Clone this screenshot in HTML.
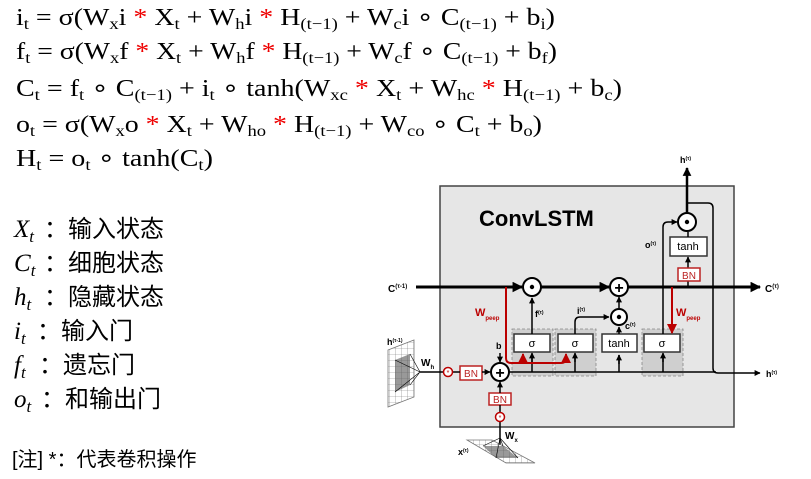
<!DOCTYPE html>
<html><head><meta charset="utf-8"><style>
html,body{margin:0;padding:0;background:#fff;}
svg{display:block;}
.eq{font-family:"Liberation Serif",serif;font-size:24px;fill:#000;}
.sub{font-size:16px;}
.r{fill:#e00;}
.cj{font-family:"Liberation Sans","Noto Sans CJK SC",sans-serif;font-size:24px;}
.it{font-family:"Liberation Serif",serif;font-style:italic;font-size:25px;}
.d{font-family:"Liberation Sans",sans-serif;font-weight:bold;}
</style></head><body>
<svg width="811" height="479" viewBox="0 0 811 479" xmlns="http://www.w3.org/2000/svg">
<defs>
<marker id="a" viewBox="0 0 10 10" refX="9" refY="5" markerWidth="4" markerHeight="3.5" orient="auto"><path d="M0,0L10,5L0,10z" fill="#000"/></marker>
<marker id="a2" viewBox="0 0 10 10" refX="9" refY="5" markerWidth="5" markerHeight="4" orient="auto"><path d="M0,0L10,5L0,10z" fill="#000"/></marker>
<marker id="ar" viewBox="0 0 10 10" refX="9" refY="5" markerWidth="5" markerHeight="5" orient="auto"><path d="M0,0L10,5L0,10z" fill="#b00"/></marker>
<marker id="ab" viewBox="0 0 10 10" refX="9" refY="5" markerWidth="4" markerHeight="4" orient="auto"><path d="M0,0L10,5L0,10z" fill="#000"/></marker>
<pattern id="g" width="6" height="6" patternUnits="userSpaceOnUse"><path d="M0,0H6V6" fill="none" stroke="#777" stroke-width="0.6"/></pattern>
</defs>
<!-- equations -->
<text class="eq" x="16" y="25" textLength="539" lengthAdjust="spacingAndGlyphs">i<tspan class="sub" dy="4">t</tspan><tspan dy="-4"> = σ(W</tspan><tspan class="sub" dy="4">x</tspan><tspan dy="-4">i </tspan><tspan class="r">*</tspan> X<tspan class="sub" dy="4">t</tspan><tspan dy="-4"> + W</tspan><tspan class="sub" dy="4">h</tspan><tspan dy="-4">i </tspan><tspan class="r">*</tspan> H<tspan class="sub" dy="4">(t−1)</tspan><tspan dy="-4"> + W</tspan><tspan class="sub" dy="4">c</tspan><tspan dy="-4">i ∘ C</tspan><tspan class="sub" dy="4">(t−1)</tspan><tspan dy="-4"> + b</tspan><tspan class="sub" dy="4">i</tspan><tspan dy="-4">)</tspan></text>
<text class="eq" x="16" y="59" textLength="541" lengthAdjust="spacingAndGlyphs">f<tspan class="sub" dy="4">t</tspan><tspan dy="-4"> = σ(W</tspan><tspan class="sub" dy="4">x</tspan><tspan dy="-4">f </tspan><tspan class="r">*</tspan> X<tspan class="sub" dy="4">t</tspan><tspan dy="-4"> + W</tspan><tspan class="sub" dy="4">h</tspan><tspan dy="-4">f </tspan><tspan class="r">*</tspan> H<tspan class="sub" dy="4">(t−1)</tspan><tspan dy="-4"> + W</tspan><tspan class="sub" dy="4">c</tspan><tspan dy="-4">f ∘ C</tspan><tspan class="sub" dy="4">(t−1)</tspan><tspan dy="-4"> + b</tspan><tspan class="sub" dy="4">f</tspan><tspan dy="-4">)</tspan></text>
<text class="eq" x="16" y="96" textLength="606" lengthAdjust="spacingAndGlyphs">C<tspan class="sub" dy="4">t</tspan><tspan dy="-4"> = f</tspan><tspan class="sub" dy="4">t</tspan><tspan dy="-4"> ∘ C</tspan><tspan class="sub" dy="4">(t−1)</tspan><tspan dy="-4"> + i</tspan><tspan class="sub" dy="4">t</tspan><tspan dy="-4"> ∘ tanh(W</tspan><tspan class="sub" dy="4">xc</tspan><tspan dy="-4"> </tspan><tspan class="r">*</tspan> X<tspan class="sub" dy="4">t</tspan><tspan dy="-4"> + W</tspan><tspan class="sub" dy="4">hc</tspan><tspan dy="-4"> </tspan><tspan class="r">*</tspan> H<tspan class="sub" dy="4">(t−1)</tspan><tspan dy="-4"> + b</tspan><tspan class="sub" dy="4">c</tspan><tspan dy="-4">)</tspan></text>
<text class="eq" x="16" y="132" textLength="526" lengthAdjust="spacingAndGlyphs">o<tspan class="sub" dy="4">t</tspan><tspan dy="-4"> = σ(W</tspan><tspan class="sub" dy="4">x</tspan><tspan dy="-4">o </tspan><tspan class="r">*</tspan> X<tspan class="sub" dy="4">t</tspan><tspan dy="-4"> + W</tspan><tspan class="sub" dy="4">ho</tspan><tspan dy="-4"> </tspan><tspan class="r">*</tspan> H<tspan class="sub" dy="4">(t−1)</tspan><tspan dy="-4"> + W</tspan><tspan class="sub" dy="4">co</tspan><tspan dy="-4"> ∘ C</tspan><tspan class="sub" dy="4">t</tspan><tspan dy="-4"> + b</tspan><tspan class="sub" dy="4">o</tspan><tspan dy="-4">)</tspan></text>
<text class="eq" x="16" y="166" textLength="197" lengthAdjust="spacingAndGlyphs">H<tspan class="sub" dy="4">t</tspan><tspan dy="-4"> = o</tspan><tspan class="sub" dy="4">t</tspan><tspan dy="-4"> ∘ tanh(C</tspan><tspan class="sub" dy="4">t</tspan><tspan dy="-4">)</tspan></text>
<!-- legend -->
<g>
<text class="it" x="14" y="237">X<tspan font-size="17" dy="5">t</tspan></text><text class="cj" x="44" y="237">：输入状态</text>
<text class="it" x="14" y="271">C<tspan font-size="17" dy="5">t</tspan></text><text class="cj" x="44" y="271">：细胞状态</text>
<text class="it" x="14" y="305">h<tspan font-size="17" dy="5">t</tspan></text><text class="cj" x="44" y="305">：隐藏状态</text>
<text class="it" x="14" y="339">i<tspan font-size="17" dy="5">t</tspan></text><text class="cj" x="37" y="339">：输入门</text>
<text class="it" x="14" y="373">f<tspan font-size="17" dy="5">t</tspan></text><text class="cj" x="39" y="373">：遗忘门</text>
<text class="it" x="14" y="407">o<tspan font-size="17" dy="5">t</tspan></text><text class="cj" x="41" y="407">：和输出门</text>
<text x="12" y="466" font-family="Liberation Sans,Noto Sans CJK SC,sans-serif" font-size="20">[注] *：代表卷积操作</text>
</g>
<!-- diagram -->
<rect x="440" y="186" width="294" height="241" fill="#e6e6e6" stroke="#444" stroke-width="1.5"/>
<text class="d" x="479" y="226" font-size="22">ConvLSTM</text>
<g fill="#cfcfcf" stroke="#888" stroke-dasharray="3,2" stroke-width="0.8">
<rect x="512" y="329" width="41" height="47"/><rect x="555" y="329" width="41" height="47"/><rect x="642" y="329" width="41" height="47"/>
</g>
<line x1="416" y1="287" x2="522" y2="287" stroke="#000" stroke-width="3" marker-end="url(#a)"/>
<line x1="541" y1="287" x2="609" y2="287" stroke="#000" stroke-width="3" marker-end="url(#a)"/>
<line x1="628" y1="287" x2="760" y2="287" stroke="#000" stroke-width="3" marker-end="url(#a)"/>
<text class="d" x="388" y="292" font-size="10">C<tspan font-size="6" dy="-4">(τ-1)</tspan></text>
<text class="d" x="765" y="292" font-size="10">C<tspan font-size="6" dy="-4">(τ)</tspan></text>
<path d="M509,372 H716 M532,372 V354 M575,372 V354 M619,372 V355 M663,372 V354" fill="none" stroke="#000" stroke-width="1.5"/>
<line x1="532" y1="362" x2="532" y2="353" stroke="#000" stroke-width="1.5" marker-end="url(#ab)"/>
<line x1="575" y1="362" x2="575" y2="353" stroke="#000" stroke-width="1.5" marker-end="url(#ab)"/>
<line x1="619" y1="364" x2="619" y2="355" stroke="#000" stroke-width="1.5" marker-end="url(#ab)"/>
<line x1="663" y1="362" x2="663" y2="353" stroke="#000" stroke-width="1.5" marker-end="url(#ab)"/>
<g fill="#fff" stroke="#333" stroke-width="1.5">
<rect x="514" y="334" width="36" height="18"/><rect x="558" y="334" width="35" height="18"/><rect x="602" y="334" width="35" height="18"/><rect x="644" y="334" width="36" height="18"/><rect x="670" y="237" width="37" height="19"/>
</g>
<g font-family="Liberation Sans,sans-serif" font-size="11" text-anchor="middle">
<text x="532" y="347">σ</text><text x="575" y="347">σ</text><text x="619" y="347">tanh</text><text x="662" y="347">σ</text><text x="688" y="250">tanh</text>
</g>
<line x1="532" y1="334" x2="532" y2="298" stroke="#000" stroke-width="1.5" marker-end="url(#ab)"/>
<path d="M575,334 V322 Q575,317 580,317 H609" fill="none" stroke="#000" stroke-width="1.5" marker-end="url(#ab)"/>
<line x1="619" y1="334" x2="619" y2="327" stroke="#000" stroke-width="1.5" marker-end="url(#ab)"/>
<line x1="619" y1="308" x2="619" y2="297" stroke="#000" stroke-width="1.5" marker-end="url(#ab)"/>
<text class="d" x="535" y="317" font-size="9">f<tspan font-size="5" dy="-3">(τ)</tspan></text>
<text class="d" x="577" y="314" font-size="9">i<tspan font-size="5" dy="-3">(τ)</tspan></text>
<text class="d" x="625" y="329" font-size="9">c<tspan font-size="5" dy="-3">(τ)</tspan></text>
<text class="d" x="645" y="248" font-size="9">o<tspan font-size="5" dy="-3">(τ)</tspan></text>
<path d="M663,334 V227 Q663,222 668,222 H677" fill="none" stroke="#000" stroke-width="1.5" marker-end="url(#ab)"/>
<line x1="688" y1="268" x2="688" y2="257" stroke="#000" stroke-width="1.5" marker-end="url(#ab)"/>
<line x1="688" y1="287" x2="688" y2="281" stroke="#000" stroke-width="1.5"/>
<line x1="688" y1="237" x2="688" y2="232" stroke="#000" stroke-width="1.5"/>
<line x1="687" y1="212" x2="687" y2="168" stroke="#000" stroke-width="2.5" marker-end="url(#a)"/>
<path d="M687,203 H708 Q713,203 713,208 V368 Q713,373 718,373 H760" fill="none" stroke="#000" stroke-width="1.5" marker-end="url(#a2)"/>
<text class="d" x="680" y="163" font-size="9">h<tspan font-size="5" dy="-3">(τ)</tspan></text>
<text class="d" x="766" y="377" font-size="9">h<tspan font-size="5" dy="-3">(τ)</tspan></text>
<g fill="#fff" stroke="#b22" stroke-width="1.5"><rect x="678" y="268" width="22" height="13"/><rect x="460" y="366" width="22" height="14"/><rect x="489" y="393" width="22" height="12"/></g>
<g fill="#b22" font-family="Liberation Sans,sans-serif" font-size="10" text-anchor="middle"><text x="689" y="279">BN</text><text x="471" y="377">BN</text><text x="500" y="403">BN</text></g>
<g fill="#fff" stroke="#000" stroke-width="2">
<circle cx="532" cy="287" r="9"/><circle cx="619" cy="287" r="9"/><circle cx="619" cy="317" r="8"/><circle cx="687" cy="222" r="9"/><circle cx="500" cy="372" r="9"/>
</g>
<g font-family="Liberation Sans,sans-serif" font-weight="bold" text-anchor="middle">
<circle cx="532" cy="287" r="2.2"/><circle cx="619" cy="317" r="2.2"/><circle cx="687" cy="222" r="2.2"/>
<text x="619" y="293" font-size="16">+</text><text x="500" y="378" font-size="16">+</text>
</g>
<path d="M506,287 V358 Q506,363 511,363 H561 Q566,363 566,358 V354" fill="none" stroke="#b00" stroke-width="2" marker-end="url(#ar)"/>
<line x1="523" y1="363" x2="523" y2="354" stroke="#b00" stroke-width="2" marker-end="url(#ar)"/>
<line x1="672" y1="287" x2="672" y2="333" stroke="#b00" stroke-width="2" marker-end="url(#ar)"/>
<text x="475" y="316" fill="#b00" font-family="Liberation Sans,sans-serif" font-weight="bold" font-size="11">W<tspan font-size="6" dy="4">peep</tspan></text>
<text x="676" y="316" fill="#b00" font-family="Liberation Sans,sans-serif" font-weight="bold" font-size="11">W<tspan font-size="6" dy="4">peep</tspan></text>
<line x1="500" y1="353" x2="500" y2="362" stroke="#000" stroke-width="1.5" marker-end="url(#ab)"/>
<text class="d" x="496" y="349" font-size="9">b</text>
<line x1="500" y1="393" x2="500" y2="382" stroke="#000" stroke-width="1.5" marker-end="url(#ab)"/>
<line x1="500" y1="445" x2="500" y2="422" stroke="#000" stroke-width="1.5"/>
<line x1="500" y1="412" x2="500" y2="405" stroke="#000" stroke-width="1.5"/>
<line x1="420" y1="372" x2="444" y2="372" stroke="#000" stroke-width="1.5"/>
<line x1="453" y1="372" x2="460" y2="372" stroke="#000" stroke-width="1.5"/>
<line x1="482" y1="372" x2="490" y2="372" stroke="#000" stroke-width="1.5" marker-end="url(#ab)"/>
<g fill="#fff" stroke="#b00" stroke-width="1.5"><circle cx="448" cy="372" r="4.5"/><circle cx="500" cy="417" r="4.5"/></g>
<g fill="#b00" font-size="7" text-anchor="middle" font-family="Liberation Sans,sans-serif"><text x="448" y="375">*</text><text x="500" y="420">*</text></g>
<polygon points="388,350 414,340 414,397 388,407" fill="url(#g)" stroke="#777" stroke-width="0.8"/>
<polygon points="395,360 410,354 410,385 395,392" fill="#555" opacity="0.6"/>
<path d="M395,360 L420,372 M395,392 L420,372 M410,354 L420,372 M410,385 L420,372" stroke="#000" stroke-width="0.6"/>
<polygon points="467,440 492,440 535,463 506,463" fill="url(#g)" stroke="#777" stroke-width="0.8"/>
<polygon points="483,446 503,446 518,458 496,458" fill="#555" opacity="0.6"/>
<path d="M483,446 L500,438 M503,446 L500,438 M518,458 L500,438 M496,458 L500,438" stroke="#000" stroke-width="0.6"/>
<text class="d" x="387" y="345" font-size="9">h<tspan font-size="5" dy="-3">(τ-1)</tspan></text>
<text class="d" x="421" y="366" font-size="10">W<tspan font-size="6" dy="3">h</tspan></text>
<text class="d" x="505" y="439" font-size="10">W<tspan font-size="6" dy="3">x</tspan></text>
<text class="d" x="458" y="455" font-size="9">x<tspan font-size="5" dy="-3">(τ)</tspan></text>
</svg>
</body></html>
